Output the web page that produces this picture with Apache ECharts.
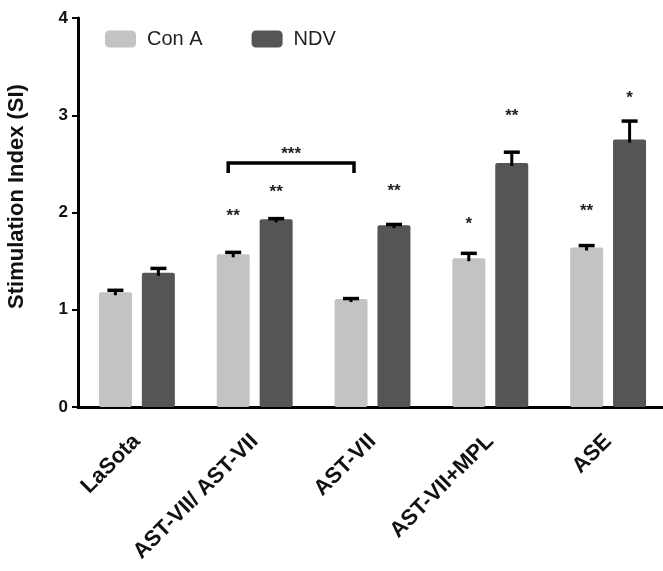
<!DOCTYPE html>
<html><head><meta charset="utf-8">
<script src="https://cdn.jsdelivr.net/npm/echarts@6/dist/echarts.min.js"></script>
<style>html,body{margin:0;padding:0;background:#fff}#c{width:663px;height:571px}</style>
</head><body><div id="c"></div>
<script>
const categories = ['LaSota', 'AST-VII/ AST-VII', 'AST-VII', 'AST-VII+MPL', 'ASE'];
const conA = [1.18, 1.57, 1.11, 1.53, 1.64];
const conAErr = [0.02, 0.02, 0.005, 0.05, 0.02];
const ndv = [1.38, 1.93, 1.87, 2.51, 2.75];
const ndvErr = [0.045, 0.007, 0.007, 0.11, 0.19];
const conASig = ['', '**', '', '*', '**'];
const conASigY = [null, 1.995, null, 1.91, 2.04];
const ndvSig = ['', '**', '**', '**', '*'];
const ndvSigY = [null, 2.24, 2.25, 3.02, 3.2];
const bracketData = [[1, 2, 2.51, '***', 2.63]];
const yTicks = [0, 1, 2, 3, 4];

const FONT = 'Liberation Sans, Arial, sans-serif';
const BAR_W = 33, HALF = 21.5;

function errRender(vals, errs, sigs, sigY, offset) {
  return function (params, api) {
    const i = params.dataIndex;
    const b = api.coord([i, vals[i]]);
    const t = api.coord([i, vals[i] + errs[i]]);
    const x = b[0] + offset;
    const ch = [
      { type: 'line', shape: { x1: x, y1: b[1] + 3, x2: x, y2: t[1] }, style: { stroke: '#000', lineWidth: 3 } },
      { type: 'line', shape: { x1: x - 8, y1: t[1], x2: x + 8, y2: t[1] }, style: { stroke: '#000', lineWidth: 3.5 } }
    ];
    if (sigs[i]) {
      const s = api.coord([i, sigY[i]]);
      ch.push({ type: 'text', x: x, y: s[1] + 3, style: { text: sigs[i], align: 'center', verticalAlign: 'middle', font: 'bold 17px ' + FONT, fill: '#222' } });
    }
    return { type: 'group', children: ch };
  };
}

const chart = echarts.init(document.getElementById('c'));
chart.setOption({
  animation: false,
  backgroundColor: '#fff',
  grid: { left: 78, right: -4, top: 18, bottom: 164, containLabel: false, outerBoundsMode: 'none' },
  legend: {
    left: 100, top: 24, itemWidth: 31, itemHeight: 17, itemGap: 49,
    icon: 'roundRect',
    textStyle: { fontFamily: FONT, fontSize: 20, color: '#222', padding: [0, 0, 0, 6] },
    data: ['Con A', 'NDV']
  },
  xAxis: {
    type: 'category', data: categories,
    axisLine: { lineStyle: { color: '#000', width: 3 } },
    axisTick: { alignWithLabel: true, length: 6, lineStyle: { color: '#000', width: 2 } },
    axisLabel: { rotate: 45, interval: 0, margin: 31, fontFamily: FONT, fontWeight: 'bold', fontSize: 22, color: '#111' }
  },
  yAxis: {
    type: 'value', min: 0, max: 4, interval: 1,
    name: 'Stimulation Index (SI)', nameLocation: 'middle', nameGap: 50,
    nameTextStyle: { fontFamily: FONT, fontWeight: 'bold', fontSize: 22, color: '#111', padding: [0, 0, 0, 32] },
    axisLine: { show: true, lineStyle: { color: '#000', width: 3 } },
    axisTick: { show: true, length: 6, lineStyle: { color: '#000', width: 2 } },
    axisLabel: { margin: 10, fontFamily: FONT, fontWeight: 'bold', fontSize: 17, color: '#111',
      formatter: v => yTicks.includes(v) ? String(v) : '' },
    splitLine: { show: false }
  },
  series: [
    { name: 'Con A', type: 'bar', data: conA, barWidth: BAR_W, barGap: '30%',
      itemStyle: { color: '#c3c3c3', borderRadius: 2 } },
    { name: 'NDV', type: 'bar', data: ndv, barWidth: BAR_W, barGap: '30%',
      itemStyle: { color: '#555555', borderRadius: 2 } },
    { type: 'custom', name: 'errA', data: conA.map((v, i) => [i, v + conAErr[i]]), z: 5,
      renderItem: errRender(conA, conAErr, conASig, conASigY, -HALF) },
    { type: 'custom', name: 'errN', data: ndv.map((v, i) => [i, v + ndvErr[i]]), z: 5,
      renderItem: errRender(ndv, ndvErr, ndvSig, ndvSigY, HALF) },
    { type: 'custom', name: 'bracket', data: bracketData, z: 5,
      renderItem: function (params, api) {
        const d = bracketData[params.dataIndex];
        const p1 = api.coord([d[0], d[2]]);
        const p2 = api.coord([d[1], d[2]]);
        const s = api.coord([d[0], d[4]]);
        const x1 = p1[0] - HALF - 5, x2 = p2[0] - HALF + 3, y = p1[1];
        return { type: 'group', children: [
          { type: 'polyline', shape: { points: [[x1, y + 10], [x1, y], [x2, y], [x2, y + 10]] }, style: { stroke: '#000', lineWidth: 3.5, fill: null } },
          { type: 'text', x: (x1 + x2) / 2, y: s[1] + 3, style: { text: d[3], align: 'center', verticalAlign: 'middle', font: 'bold 17px ' + FONT, fill: '#222' } }
        ] };
      } }
  ]
});
</script></body></html>
